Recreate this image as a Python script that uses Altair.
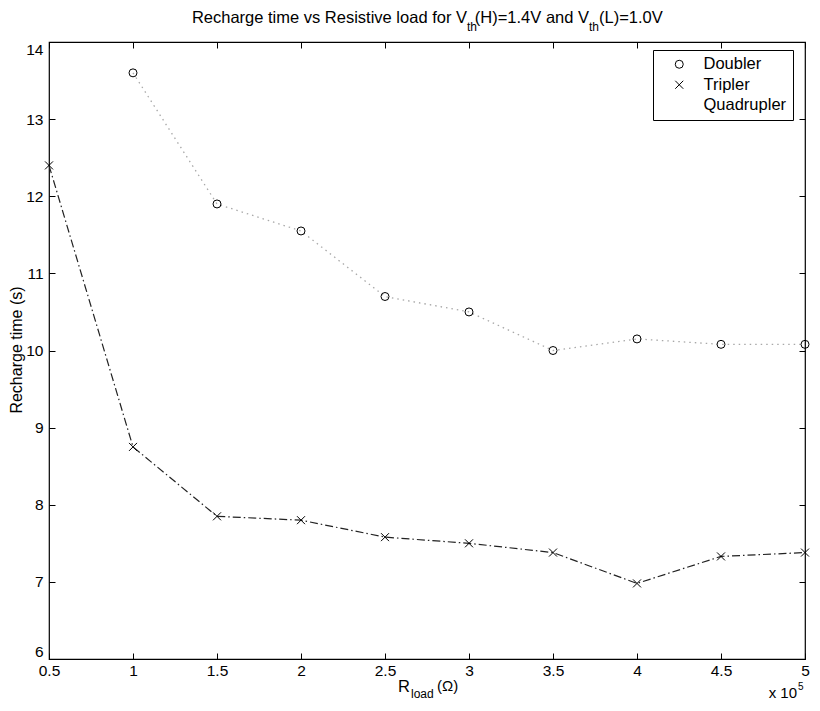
import altair as alt
import pandas as pd

# ---- data (x in units of 1e5 ohm) ----
doubler_x = [1, 1.5, 2, 2.5, 3, 3.5, 4, 4.5, 5]
doubler_y = [13.6, 11.9, 11.55, 10.7, 10.5, 10.0, 10.15, 10.08, 10.08]
tripler_x = [0.5, 1, 1.5, 2, 2.5, 3, 3.5, 4, 4.5, 5]
tripler_y = [12.4, 8.75, 7.85, 7.8, 7.58, 7.5, 7.38, 6.98, 7.33, 7.38]
series_names = ["Doubler", "Tripler", "Quadrupler"]
x_ticks = [0.5, 1, 1.5, 2, 2.5, 3, 3.5, 4, 4.5, 5]
y_ticks = [6, 7, 8, 9, 10, 11, 12, 13, 14]

rows = [{"series": "Doubler", "x": a, "y": b} for a, b in zip(doubler_x, doubler_y)]
rows += [{"series": "Tripler", "x": a, "y": b} for a, b in zip(tripler_x, tripler_y)]
df = pd.DataFrame(rows)

FONT = "Liberation Sans Narrow, Liberation Sans, Arial, sans-serif"
W, H = 756, 617

xs = alt.Scale(domain=[0.5, 5], nice=False, zero=False)
ys = alt.Scale(domain=[6, 14], nice=False, zero=False)

ax_bottom = alt.Axis(orient="bottom", values=x_ticks, offset=-6, tickSize=6, domain=False,
                     labelPadding=4, labelFontSize=15.5, labelFont=FONT, labelColor="black",
                     tickColor="black", grid=False, title=None, format="~g",
                     labelFlush=False, labelOverlap=False)
ax_top = alt.Axis(orient="top", values=x_ticks, offset=-6, tickSize=6, domain=False,
                  labels=False, tickColor="black", grid=False, title=None)
ax_left = alt.Axis(orient="left", values=y_ticks, offset=-6, tickSize=6, domain=False,
                   labelPadding=6, labelFontSize=15.5, labelFont=FONT, labelColor="black",
                   tickColor="black", grid=False, title=None, format="d",
                   labelFlush=True, labelOverlap=False)
ax_right = alt.Axis(orient="right", values=y_ticks, offset=-6, tickSize=6, domain=False,
                    labels=False, tickColor="black", grid=False, title=None)

base = alt.Chart(df)

doubler_line = base.transform_filter(alt.datum.series == "Doubler").mark_line(
    color="#a8a8a8", strokeDash=[1.5, 4], strokeWidth=1.3
).encode(
    x=alt.X("x:Q", scale=xs, axis=ax_bottom),
    y=alt.Y("y:Q", scale=ys, axis=ax_left),
)

tripler_line = base.transform_filter(alt.datum.series == "Tripler").mark_line(
    color="#222222", strokeDash=[8, 3, 1.5, 3], strokeWidth=1.2
).encode(
    x=alt.X("x:Q", scale=xs, axis=ax_top),
    y=alt.Y("y:Q", scale=ys, axis=ax_right),
)

xpath = "M-1,-1L1,1M-1,1L1,-1"
points = base.mark_point(filled=False, strokeWidth=1, size=64, color="black", opacity=1).encode(
    x=alt.X("x:Q", scale=xs, axis=None),
    y=alt.Y("y:Q", scale=ys, axis=None),
    shape=alt.Shape("series:N",
                    scale=alt.Scale(domain=series_names, range=["circle", xpath, "M0,0"]),
                    legend=alt.Legend(title=None, orient="none", legendX=604, legendY=8,
                                      strokeColor="black", fillColor="white", padding=6,
                                      symbolOffset=12, labelFontSize=16.5, labelFont=FONT,
                                      labelColor="black", symbolSize=64,
                                      symbolStrokeColor="black", symbolFillColor="transparent",
                                      symbolStrokeWidth=1, rowPadding=3.5, labelOffset=16)),
)

def txt(s, x, y, size=14, angle=0, align="left", baseline="alphabetic"):
    return alt.Chart(pd.DataFrame({"t": [s]})).mark_text(
        text=s, font=FONT, fontSize=size, color="black", align=align,
        baseline=baseline, angle=angle
    ).encode(x=alt.value(x), y=alt.value(y))

L, T = 49, 42
texts = [
    txt("Recharge time vs Resistive load for V", 467 - L, 23 - T, 16.5, align="right"),
    txt("th", 467 - L, 31 - T, 12),
    txt("(H)=1.4V and V", 589 - L, 23 - T, 16.5, align="right"),
    txt("th", 589 - L, 31 - T, 12),
    txt("(L)=1.0V", 599 - L, 23 - T, 16.5),
    txt("R", 410 - L, 692 - T, 16.5, align="right"),
    txt("load", 411 - L, 698 - T, 12),
    txt("(\u03a9)", 437 - L, 691 - T, 15),
    txt("x 10", 797 - L, 698 - T, 15, align="right"),
    txt("5", 798 - L, 690 - T, 10),
    txt("Recharge time (s)", 22 - L, 350 - T, 16, angle=270, align="center"),
]

chart = alt.layer(doubler_line, tripler_line, points, *texts).resolve_axis(
    x="independent", y="independent"
).properties(
    width=W, height=H,
    autosize=alt.AutoSizeParams(type="none"),
    padding={"left": L, "top": T, "right": 820 - L - W, "bottom": 711 - T - H},
    background="white",
).configure_view(stroke="black", strokeWidth=1.2)

chart.save("out.html", embed_options={"renderer": "svg", "actions": False})
